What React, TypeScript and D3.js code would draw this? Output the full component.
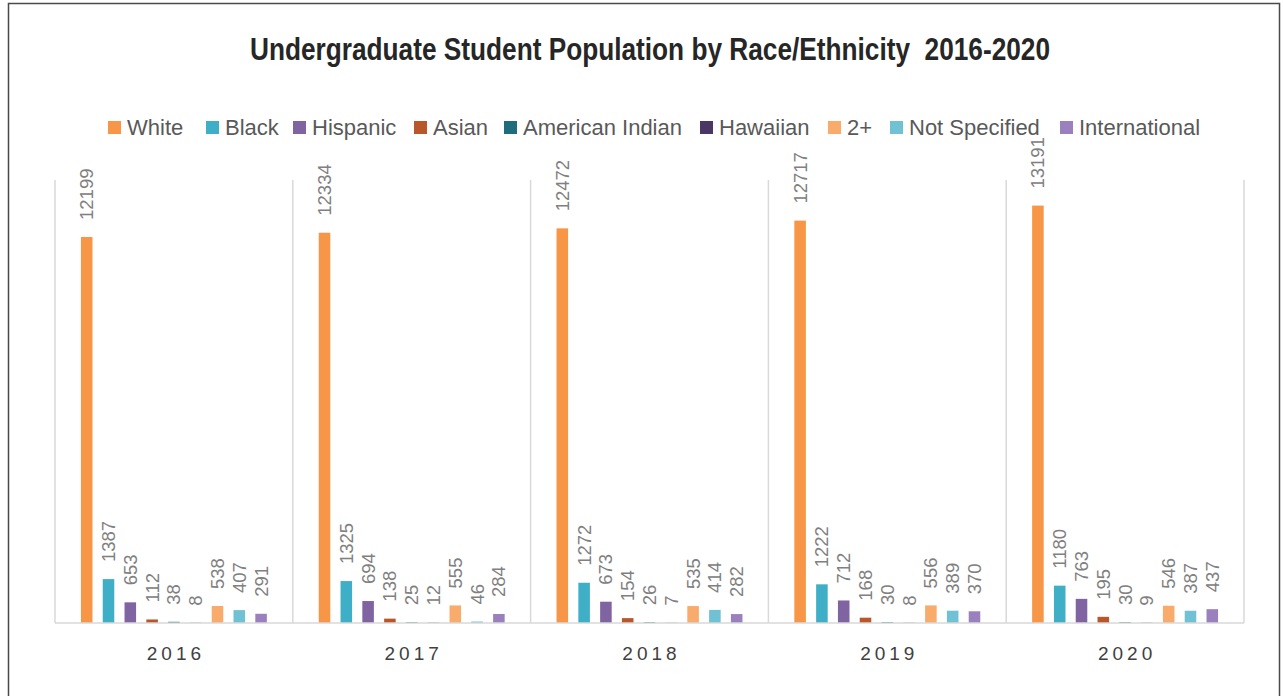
import React, { useEffect, useRef } from 'react';
import * as d3 from 'd3';

const years = ['2016', '2017', '2018', '2019', '2020'];
const seriesNames = ['White', 'Black', 'Hispanic', 'Asian', 'American Indian', 'Hawaiian', '2+', 'Not Specified', 'International'];
const seriesColors = ['#F79646', '#3FAEC7', '#8064A2', '#B9562A', '#1F6C7C', '#4A3763', '#F9AB6B', '#6FC1D3', '#9A81BD'];

const white = [12199, 12334, 12472, 12717, 13191];
const black = [1387, 1325, 1272, 1222, 1180];
const hispanic = [653, 694, 673, 712, 763];
const asian = [112, 138, 154, 168, 195];
const americanIndian = [38, 25, 26, 30, 30];
const hawaiian = [8, 12, 7, 8, 9];
const twoPlus = [538, 555, 535, 556, 546];
const notSpecified = [407, 46, 414, 389, 387];
const international = [291, 284, 282, 370, 437];

const seriesValues = [white, black, hispanic, asian, americanIndian, hawaiian, twoPlus, notSpecified, international];

// legend square positions
const legendX = [108, 206, 293, 414, 504, 700, 828, 890, 1060];

const W = 1283, H = 696;

const App = () => {
  const ref = useRef<SVGSVGElement>(null);

  useEffect(() => {
    const svg = d3.select(ref.current);
    svg.selectAll('*').remove();

    const left = 55, right = 1244, top = 180, bottom = 623;

    // outer frame
    svg.append('rect')
      .attr('x', 8.5).attr('y', 3.5)
      .attr('width', 1271).attr('height', 720)
      .attr('fill', '#fff')
      .attr('stroke', '#4a4a4a')
      .attr('stroke-width', 1.5);

    // title - narrow bold, squeezed to the reference width
    svg.append('text')
      .attr('x', 250).attr('y', 60)
      .attr('textLength', 800)
      .attr('lengthAdjust', 'spacingAndGlyphs')
      .style('font-family', '"Liberation Sans", Arial, sans-serif')
      .style('font-weight', 'bold')
      .style('font-size', '31px')
      .attr('fill', '#262626')
      .attr('xml:space', 'preserve')
      .text('Undergraduate Student Population by Race/Ethnicity  2016-2020');

    // legend
    const lg = svg.append('g');
    seriesNames.forEach((name, i) => {
      lg.append('rect')
        .attr('x', legendX[i]).attr('y', 121)
        .attr('width', 13).attr('height', 13)
        .attr('fill', seriesColors[i]);
      lg.append('text')
        .attr('x', legendX[i] + 19).attr('y', 134.5)
        .style('font-family', '"Liberation Sans", sans-serif')
        .style('font-size', '22px')
        .attr('fill', '#595959')
        .text(name);
    });

    const x = d3.scaleBand()
      .domain(years)
      .range([left, right])
      .padding(0);

    const xSub = d3.scaleBand()
      .domain(seriesNames)
      .range([0, x.bandwidth()])
      .paddingInner(0.47)
      .paddingOuter(1.19);

    const y = d3.scaleLinear()
      .domain([0, 14000])
      .range([bottom, top]);

    // category separators
    const seps = years.map(yr => x(yr)!).concat([right]);
    svg.append('g')
      .selectAll('line')
      .data(seps)
      .join('line')
      .attr('x1', d => d).attr('x2', d => d)
      .attr('y1', top).attr('y2', bottom)
      .attr('stroke', '#d9d9d9')
      .attr('stroke-width', 1.5);

    // bars + labels
    const rows = years.flatMap((yr, j) => seriesNames.map((s, i) => ({ year: yr, key: s, idx: i, value: seriesValues[i][j] })));

    const g = svg.append('g');
    g.selectAll('rect')
      .data(rows)
      .join('rect')
      .attr('x', d => x(d.year)! + xSub(d.key)!)
      .attr('y', d => y(d.value))
      .attr('width', xSub.bandwidth())
      .attr('height', d => bottom - y(d.value))
      .attr('fill', d => seriesColors[d.idx]);

    g.selectAll('text')
      .data(rows)
      .join('text')
      .attr('transform', d => {
        const cx = x(d.year)! + xSub(d.key)! + xSub.bandwidth() / 2;
        return `translate(${cx},${y(d.value) - 17}) rotate(-90)`;
      })
      .attr('dominant-baseline', 'central')
      .style('font-family', '"Liberation Sans", sans-serif')
      .style('font-size', '18.5px')
      .attr('fill', '#808080')
      .text(d => d.value);

    // baseline
    svg.append('line')
      .attr('x1', left).attr('x2', right)
      .attr('y1', bottom).attr('y2', bottom)
      .attr('stroke', '#d9d9d9')
      .attr('stroke-width', 1.5);

    // year labels
    svg.append('g')
      .selectAll('text')
      .data(years)
      .join('text')
      .attr('x', d => x(d)! + x.bandwidth() / 2 + 2)
      .attr('y', 660)
      .attr('text-anchor', 'middle')
      .style('font-family', '"Liberation Sans", sans-serif')
      .style('font-size', '19px')
      .style('letter-spacing', '4px')
      .attr('fill', '#404040')
      .text(d => d);
  }, []);

  return (
    <svg ref={ref} width={W} height={H}
      style={{ position: 'absolute', left: 0, top: 0, background: '#fff' }} />
  );
};

export default App;
